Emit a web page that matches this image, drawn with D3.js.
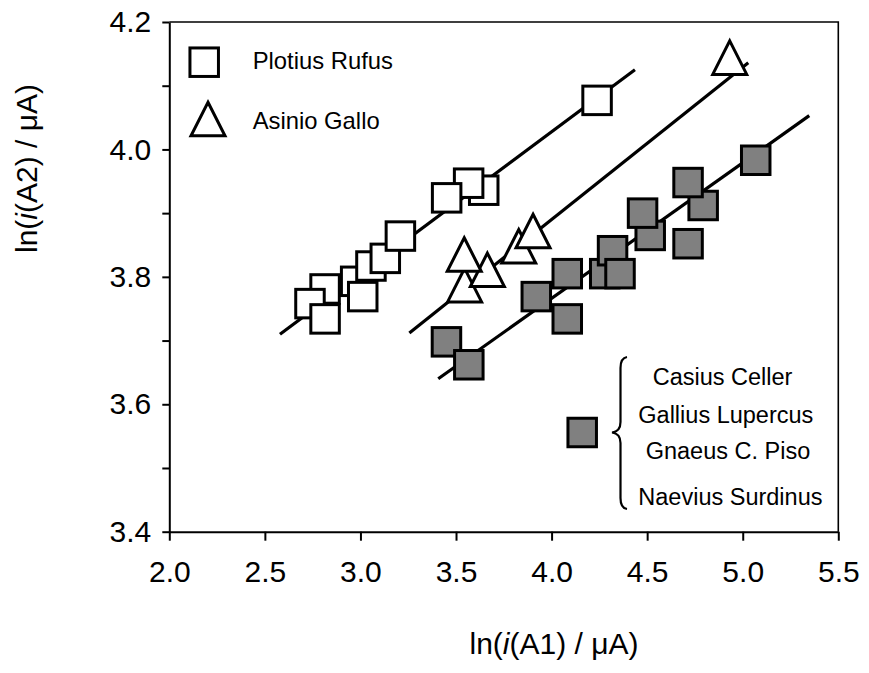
<!DOCTYPE html>
<html>
<head>
<meta charset="utf-8">
<script src="https://cdn.jsdelivr.net/npm/d3@7"></script>
<style>
  html, body { margin: 0; padding: 0; background: #fff; }
  svg { display: block; font-family: "Liberation Sans", Arial, sans-serif; }
</style>
</head>
<body>
<svg id="chart" width="869" height="673"></svg>
<script>
// Axis ticks
const xTicks = [2.0, 2.5, 3.0, 3.5, 4.0, 4.5, 5.0, 5.5];
const yTicks = [3.4, 3.5, 3.6, 3.7, 3.8, 3.9, 4.0, 4.1, 4.2];
const yLabelTicks = [3.4, 3.6, 3.8, 4.0, 4.2];

// Plotius Rufus (open squares)
const rufusX = [2.815, 2.736, 2.815, 2.975, 3.012, 3.055, 3.130, 3.209, 3.645, 3.566, 3.451, 4.238];
const rufusY = [3.781, 3.758, 3.734, 3.793, 3.769, 3.817, 3.829, 3.864, 3.936, 3.947, 3.924, 4.077];

// Asinio Gallo (open triangles)
const galloX = [3.545, 3.664, 3.543, 3.828, 3.903, 4.932];
const galloY = [3.787, 3.811, 3.835, 3.848, 3.872, 4.144];

// Casius Celler, Gallius Lupercus, Gnaeus C. Piso, Naevius Surdinus (grey squares)
const pooledX = [3.450, 3.567, 3.920, 4.082, 4.082, 4.278, 4.319, 4.358, 4.516, 4.476, 4.793, 4.714, 4.714, 5.068];
const pooledY = [3.698, 3.662, 3.769, 3.734, 3.805, 3.805, 3.841, 3.805, 3.865, 3.900, 3.912, 3.948, 3.852, 3.983];

// Linear fits: Rufus, Gallo, pooled group
const fitX0 = [2.579, 3.256, 3.407];
const fitY0 = [3.710, 3.712, 3.640];
const fitX1 = [4.436, 5.029, 5.348];
const fitY1 = [4.125, 4.136, 4.053];

const legendNames = ["Plotius Rufus", "Asinio Gallo"];
const groupNames = ["Casius Celler", "Gallius Lupercus", "Gnaeus C. Piso", "Naevius Surdinus"];

const svg = d3.select("#chart");
const x = d3.scaleLinear().domain([2.0, 5.5]).range([169.3, 838.3]);
const y = d3.scaleLinear().domain([3.4, 4.2]).range([531.7, 22]);

// frame (top and right edges)
svg.append("path")
  .attr("d", `M${x(2.0)},${y(4.2)} H${x(5.5)} V${y(3.4)}`)
  .attr("fill", "none").attr("stroke", "#000").attr("stroke-width", 1.6);

// axes
const fmt = d3.format(".1f");
const xAxis = svg.append("g")
  .attr("transform", `translate(0,${y(3.4)})`)
  .call(d3.axisBottom(x).tickValues(xTicks).tickSize(9).tickSizeOuter(0).tickPadding(20).tickFormat(fmt));
const yAxis = svg.append("g")
  .attr("transform", `translate(${x(2.0)},0)`)
  .call(d3.axisLeft(y).tickValues(yTicks).tickSize(7).tickSizeOuter(0).tickPadding(11)
    .tickFormat(d => yLabelTicks.some(v => Math.abs(v - d) < 1e-9) ? fmt(d) : ""));
[xAxis, yAxis].forEach(g => {
  g.select(".domain").attr("stroke-width", 2);
  g.selectAll(".tick line").attr("stroke-width", 2);
  g.selectAll("text").attr("font-size", 30).attr("font-family", "Liberation Sans, Arial, sans-serif").attr("fill", "#000");
});

// axis titles
const xt = svg.append("text").attr("x", 554).attr("y", 654)
  .attr("text-anchor", "middle").attr("font-size", 30);
xt.append("tspan").text("ln(");
xt.append("tspan").attr("font-style", "italic").text("i");
xt.append("tspan").text("(A1) / \u03bcA)");

const yt = svg.append("text").attr("transform", "translate(37,168.5) rotate(-90)")
  .attr("text-anchor", "middle").attr("font-size", 30);
yt.append("tspan").text("ln(");
yt.append("tspan").attr("font-style", "italic").text("i");
yt.append("tspan").text("(A2) / \u03bcA)");

// fit lines
const fits = fitX0.map((d, i) => [[d, fitY0[i]], [fitX1[i], fitY1[i]]]);
const line = d3.line().x(d => x(d[0])).y(d => y(d[1]));
svg.append("g").selectAll("path").data(fits).join("path")
  .attr("d", line).attr("fill", "none").attr("stroke", "#000").attr("stroke-width", 3.2);

// markers
const SQ = 28.5, TW = 34, TH = 33.5;
function square(g, cx, cy, fill) {
  g.append("rect").attr("x", cx - SQ / 2).attr("y", cy - SQ / 2).attr("width", SQ).attr("height", SQ)
    .attr("fill", fill).attr("stroke", "#000").attr("stroke-width", 3);
}
function triangle(g, cx, cy) {
  g.append("path")
    .attr("d", `M${cx},${cy - TH / 2} L${cx + TW / 2},${cy + TH / 2} L${cx - TW / 2},${cy + TH / 2} Z`)
    .attr("fill", "#fff").attr("stroke", "#000").attr("stroke-width", 3).attr("stroke-linejoin", "miter");
}
const marks = svg.append("g");
rufusX.forEach((d, i) => square(marks, x(d), y(rufusY[i]), "#fff"));
galloX.forEach((d, i) => triangle(marks, x(d), y(galloY[i])));
pooledX.forEach((d, i) => square(marks, x(d), y(pooledY[i]), "#808080"));

// upper-left legend
const leg = svg.append("g");
square(leg, 204.2, 62.2, "#fff");
triangle(leg, 208, 119);
leg.append("text").attr("x", 252.7).attr("y", 68.5).attr("font-size", 23.8).text(legendNames[0]);
leg.append("text").attr("x", 252.7).attr("y", 128.5).attr("font-size", 23.8).text(legendNames[1]);

// grouped legend with brace
const grp = svg.append("g");
square(grp, 582.2, 432.5, "#808080");
grp.append("path")
  .attr("d", "M627,357 Q620.5,358 620.5,368 L620.5,422 Q620.5,431.5 612,432.5 Q620.5,433.5 620.5,443 L620.5,498 Q620.5,508 627,509")
  .attr("fill", "none").attr("stroke", "#000").attr("stroke-width", 2.2);
const gx = [652.7, 638.3, 645.7, 638.3];
const gy = [385, 422.7, 459.3, 505];
grp.selectAll("text.g").data(groupNames).join("text")
  .attr("x", (d, i) => gx[i]).attr("y", (d, i) => gy[i])
  .attr("font-size", 23.5).text(d => d);
</script>
</body>
</html>
